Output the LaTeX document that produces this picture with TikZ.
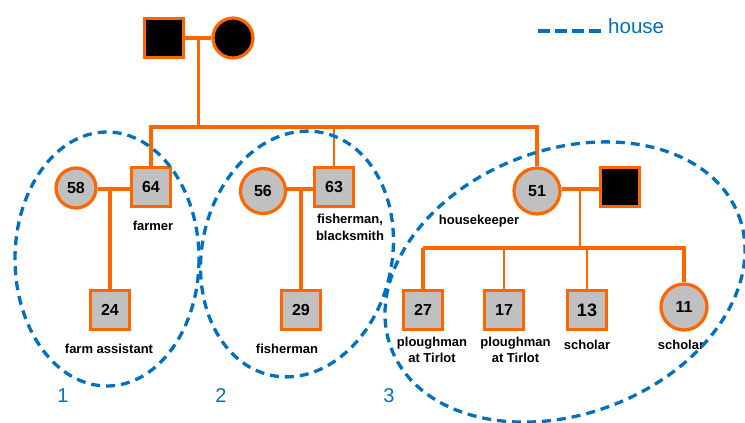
\documentclass[tikz,border=0pt]{standalone}
\usepackage{fontspec}
\setmainfont{Liberation Sans}
\usetikzlibrary{calc}
\definecolor{orng}{HTML}{FF6600}
\definecolor{hblue}{HTML}{0070C0}
\definecolor{pgray}{HTML}{C0C0C0}
\begin{document}
\begin{tikzpicture}[x=1pt,y=-1pt,
  male/.style={draw=orng, line width=3.8pt, fill=pgray, minimum size=39pt, inner sep=0pt, font=\fontsize{16}{16}\selectfont\bfseries},
  female/.style={circle, draw=orng, line width=3.2pt, fill=pgray, minimum size=40pt, inner sep=0pt, font=\fontsize{16}{16}\selectfont\bfseries},
  blk/.style={fill=black},
  link/.style={draw=orng, line width=3.2pt},
  thinlink/.style={draw=orng, line width=2.4pt},
  thicklink/.style={draw=orng, line width=4pt},
  lbl/.style={font=\fontsize{13}{16}\selectfont\bfseries, inner sep=0pt, align=center},
  house/.style={draw=hblue, line width=3.3pt, dash pattern=on 9pt off 6pt},
  hnum/.style={text=hblue, font=\fontsize{20}{20}\selectfont, inner sep=0pt}]
\useasboundingbox (0,0) rectangle (745,423);
% people
\node[male, blk] (gf) at (164,38) {};
\node[female, blk] (gm) at (233,38) {};
\node[female] (p58) at (76,188) {58};
\node[male] (p64) at (151,187) {64};
\node[male] (p24) at (110,310) {24};
\node[female, minimum size=45pt] (p56) at (263,191) {56};
\node[male] (p63) at (334,187) {63};
\node[male] (p29) at (301,310) {29};
\node[female, minimum size=46pt] (p51) at (537,191) {51};
\node[male, blk] (h51) at (620,187) {};
\node[male] (p27) at (423,310) {27};
\node[male] (p17) at (504,310) {17};
\node[male, font=\fontsize{18}{18}\selectfont\bfseries] (p13) at (587,310) {13};
\node[female, minimum size=46pt] (p11) at (684,307) {11};
% connectors
\coordinate (ybar) at (0,127);
\coordinate (ycpl) at (0,189);
\coordinate (ybar3) at (0,248);
\draw[link] (gf.east) -- (gm.west);
\coordinate (k0) at ($(gf.east)!0.5!(gm.west)$);
\draw[link] (k0) -- (k0 |- ybar);
\draw[link] (p64.north) -- (p64.north |- ybar) -- (p51.north |- ybar) -- (p51.north);
\draw[thinlink] (p63.north |- ybar) -- (p63.north);
\draw[link] (p58.east |- ycpl) -- (p64.west |- ycpl);
\draw[link] (p24.north) -- (p24.north |- ycpl);
\draw[link] (p56.east |- ycpl) -- (p63.west |- ycpl);
\draw[link] (p29.north) -- (p29.north |- ycpl);
\draw[link] (p51.east |- ycpl) -- (h51.west |- ycpl);
\coordinate (k3) at ($(p51.east |- ycpl)!0.5!(h51.west |- ycpl)$);
\draw[thinlink] (k3) -- (k3 |- ybar3);
\draw[link] (p27.north |- ybar3) -- (p11.north |- ybar3) -- (p11.north);
\draw[thicklink] (p27.north |- ybar3) -- (p27.north);
\draw[thinlink] (p17.north |- ybar3) -- (p17.north);
\draw[thinlink] (p13.north |- ybar3) -- (p13.north);
% labels
\node[lbl, anchor=base] (l64) at (153,230) {farmer};
\node[lbl, anchor=base] (l24) at (109,353) {farm assistant};
\node[lbl, anchor=north, font=\fontsize{13}{17}\selectfont\bfseries] (l63) at (350,213.5) {fisherman,\\blacksmith};
\node[lbl, anchor=base] (l29) at (287,353) {fisherman};
\node[lbl, anchor=base] (l51) at (479,224) {housekeeper};
\node[lbl, anchor=north, font=\fontsize{13}{15.5}\selectfont\bfseries] (l27) at (432,337) {ploughman\\at Tirlot};
\node[lbl, anchor=north, font=\fontsize{13}{15.5}\selectfont\bfseries] (l17) at (515.5,337) {ploughman\\at Tirlot};
\node[lbl, anchor=base] (l13) at (587,349) {scholar};
\node[lbl, anchor=base] (l11) at (681,349) {scholar};
% houses
\coordinate (e1) at (107,259);
\draw[house] (e1) ellipse [x radius=92, y radius=127];
\coordinate (e2) at (297,254);
\draw[house, rotate around={-12:(e2)}] (e2) ellipse [x radius=95, y radius=124];
\coordinate (e3) at (565,282);
\draw[house, rotate around={21:(e3)}] (e3) ellipse [x radius=186, y radius=132];
\node[hnum] (n1) at (63,396) {1};
\node[hnum] (n2) at (221,396) {2};
\node[hnum] (n3) at (389,396) {3};
% legend
\coordinate (lg1) at (538,31);
\coordinate (lg2) at (604,31);
\draw[house, dash pattern=on 12pt off 5pt] (lg1) -- (lg2);
\node[anchor=base west, text=hblue, font=\fontsize{20.5}{20}\selectfont, inner sep=0pt] (lgt) at (608,34) {house};
\end{tikzpicture}
\end{document}
